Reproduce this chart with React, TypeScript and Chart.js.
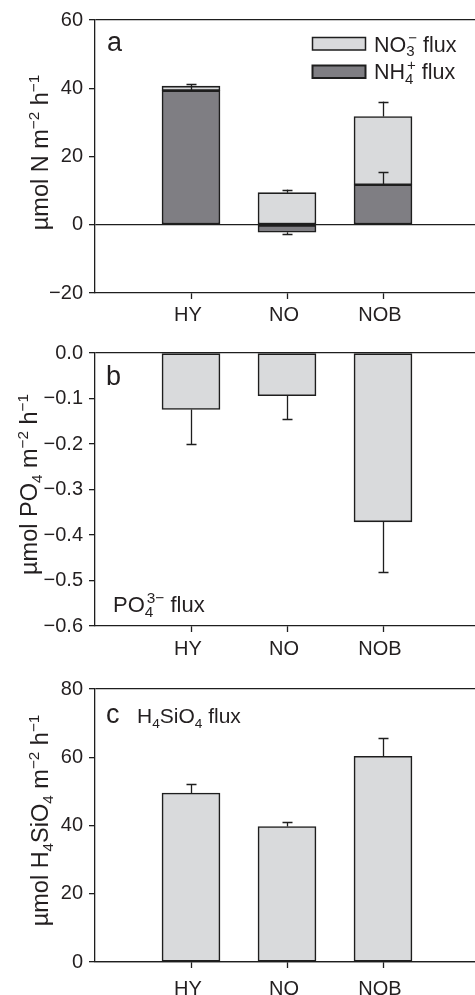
import React, { useEffect, useRef } from 'react';
import { Chart, registerables } from 'chart.js';

Chart.register(...registerables);

// ---------- data ----------
const categories = ['HY', 'NO', 'NOB'];

const no3Flux = [1.3, 9.4, 20.0];
const no3Err = [0, 0.9, 4.4];
const nh4Flux = [39.3, -2.2, 11.7];
const nh4Err = [2.0, 0.5, 3.7];

const po4Flux = [-0.124, -0.094, -0.371];
const po4Err = [0.076, 0.052, 0.11];

const siFlux = [49.5, 39.7, 60.3];
const siErr = [2.7, 1.4, 5.3];

const ticksA = [-20, 0, 20, 40, 60];
const ticksB = [-0.6, -0.5, -0.4, -0.3, -0.2, -0.1, 0.0];
const ticksC = [0, 20, 40, 60, 80];

// ---------- style ----------
const FONT = "'Liberation Sans', Arial, Helvetica, sans-serif";
const INK = '#231f20';
const LIGHT = '#d9dadc';
const DARK = '#7f7e83';
const EDGE = '#1e1e1e';

type Seg = { t: string; s?: 'sub' | 'sup'; stack?: boolean };

function richLayout(ctx: CanvasRenderingContext2D, segs: Seg[], size: number, scale = 0.65) {
  let cx = 0;
  let lastStart = 0;
  let lastW = 0;
  const out: { t: string; x: number; dy: number; fs: number }[] = [];
  for (const seg of segs) {
    const fs = seg.s ? size * scale : size;
    ctx.font = `${fs}px ${FONT}`;
    const w = ctx.measureText(seg.t).width;
    const dy = seg.s === 'sub' ? size * 0.22 : seg.s === 'sup' ? -size * 0.4 : 0;
    let x = cx;
    if (seg.stack) {
      x = lastStart + 2;
      cx = Math.max(lastStart + lastW, x + w);
    } else {
      cx += w;
    }
    out.push({ t: seg.t, x, dy, fs });
    lastStart = x;
    lastW = w;
  }
  return { items: out, width: cx };
}

function drawRich(ctx: CanvasRenderingContext2D, segs: Seg[], x: number, y: number, size: number, scale = 0.65) {
  const lay = richLayout(ctx, segs, size, scale);
  ctx.textAlign = 'left';
  ctx.textBaseline = 'alphabetic';
  ctx.fillStyle = INK;
  for (const it of lay.items) {
    ctx.font = `${it.fs}px ${FONT}`;
    ctx.fillText(it.t, x + it.x, y + it.dy);
  }
  return lay.width;
}

function drawRotated(ctx: CanvasRenderingContext2D, segs: Seg[], xBase: number, yCenter: number, size: number) {
  const lay = richLayout(ctx, segs, size);
  ctx.save();
  ctx.translate(xBase, yCenter);
  ctx.rotate(-Math.PI / 2);
  drawRich(ctx, segs, -lay.width / 2, 0, size);
  ctx.restore();
}

type Panel = {
  top: number;
  height: number;
  padTop: number;
  xHeight: number;
  xPad: number;
  ticks: number[];
  fmt: (v: number) => string;
  datasets: { data: number[]; err: number[]; color: string; label: string }[];
  title: Seg[];
  titleX: number;
  titleShift: number;
  annotate: (ctx: CanvasRenderingContext2D, area: any) => void;
};

const minus = (s: string) => s.replace('-', '\u2212');

const panels: Panel[] = [
  {
    top: 0,
    height: 330,
    padTop: 20,
    xHeight: 37,
    xPad: 4,
    ticks: ticksA,
    fmt: (v) => minus(String(v)),
    datasets: [
      { data: nh4Flux, err: nh4Err, color: DARK, label: 'NH4+ flux' },
      { data: no3Flux, err: no3Err, color: LIGHT, label: 'NO3- flux' },
    ],
    title: [{ t: 'µmol N m' }, { t: '−2', s: 'sup' }, { t: ' h' }, { t: '−1', s: 'sup' }],
    titleX: 48,
    titleShift: -4,
    annotate: (ctx) => {
      ctx.fillStyle = INK;
      ctx.font = `27px ${FONT}`;
      ctx.textAlign = 'left';
      ctx.textBaseline = 'alphabetic';
      ctx.fillText('a', 107, 51);
      // legend
      ctx.lineWidth = 1.5;
      ctx.strokeStyle = EDGE;
      ctx.fillStyle = LIGHT;
      ctx.fillRect(312.5, 37.5, 53, 12.5);
      ctx.strokeRect(312.5, 37.5, 53, 12.5);
      ctx.fillStyle = DARK;
      ctx.lineWidth = 2;
      ctx.fillRect(312.5, 65.5, 53, 12.5);
      ctx.strokeRect(312.5, 65.5, 53, 12.5);
      drawRich(ctx, [{ t: 'NO' }, { t: '3', s: 'sub' }, { t: '−', s: 'sup', stack: true }, { t: ' flux' }], 374, 51.5, 21.5, 0.7);
      drawRich(ctx, [{ t: 'NH' }, { t: '4', s: 'sub' }, { t: '+', s: 'sup', stack: true }, { t: ' flux' }], 374, 79, 21.5, 0.7);
    },
  },
  {
    top: 330,
    height: 330,
    padTop: 23,
    xHeight: 34,
    xPad: 5,
    ticks: ticksB,
    fmt: (v) => minus(v.toFixed(1)),
    datasets: [{ data: po4Flux, err: po4Err, color: LIGHT, label: 'PO4 3- flux' }],
    title: [{ t: 'µmol PO' }, { t: '4', s: 'sub' }, { t: ' m' }, { t: '−2', s: 'sup' }, { t: ' h' }, { t: '−1', s: 'sup' }],
    titleX: 37,
    titleShift: -5,
    annotate: (ctx) => {
      ctx.fillStyle = INK;
      ctx.font = `27px ${FONT}`;
      ctx.textAlign = 'left';
      ctx.textBaseline = 'alphabetic';
      ctx.fillText('b', 106, 55);
      drawRich(ctx, [{ t: 'PO' }, { t: '4', s: 'sub' }, { t: '3−', s: 'sup', stack: true }, { t: ' flux' }], 113, 282, 22, 0.7);
    },
  },
  {
    top: 660,
    height: 335,
    padTop: 29,
    xHeight: 33,
    xPad: 9,
    ticks: ticksC,
    fmt: (v) => String(v),
    datasets: [{ data: siFlux, err: siErr, color: LIGHT, label: 'H4SiO4 flux' }],
    title: [{ t: 'µmol H' }, { t: '4', s: 'sub' }, { t: 'SiO' }, { t: '4', s: 'sub' }, { t: ' m' }, { t: '−2', s: 'sup' }, { t: ' h' }, { t: '−1', s: 'sup' }],
    titleX: 48,
    titleShift: -5,
    annotate: (ctx) => {
      ctx.fillStyle = INK;
      ctx.font = `27px ${FONT}`;
      ctx.textAlign = 'left';
      ctx.textBaseline = 'alphabetic';
      ctx.fillText('c', 106, 63);
      drawRich(ctx, [{ t: 'H' }, { t: '4', s: 'sub' }, { t: 'SiO' }, { t: '4', s: 'sub' }, { t: ' flux' }], 137, 63, 21);
    },
  },
];

function ChartPanel({ p }: { p: Panel }) {
  const ref = useRef<HTMLCanvasElement>(null);
  useEffect(() => {
    const canvas = ref.current!;
    const labels = ['', ...categories, ''];
    const min = Math.min(...p.ticks);
    const max = Math.max(...p.ticks);
    const isEdge = (v: number) => Math.abs(v) < 1e-9 || Math.abs(v - max) < 1e-9;

    const errPlugin = {
      id: 'errbars',
      afterDatasetsDraw(chart: any) {
        const ctx = chart.ctx as CanvasRenderingContext2D;
        const y = chart.scales.y;
        ctx.save();
        ctx.strokeStyle = EDGE;
        ctx.lineWidth = 1.3;
        p.datasets.forEach((ds, di) => {
          const meta = chart.getDatasetMeta(di);
          ds.data.forEach((v, i) => {
            const e = ds.err[i];
            if (!e) return;
            const el = meta.data[i + 1];
            if (!el) return;
            const endVal = y.getValueForPixel(el.y);
            const sign = v >= 0 ? 1 : -1;
            const y0 = el.y;
            const y1 = y.getPixelForValue(endVal + sign * e);
            const x = Math.round(el.x) + 0.5;
            ctx.beginPath();
            ctx.moveTo(x, y0);
            ctx.lineTo(x, y1);
            ctx.moveTo(x - 5, Math.round(y1) + 0.5);
            ctx.lineTo(x + 5, Math.round(y1) + 0.5);
            ctx.stroke();
          });
        });
        ctx.restore();
      },
    };

    const textPlugin = {
      id: 'texts',
      afterDraw(chart: any) {
        const ctx = chart.ctx as CanvasRenderingContext2D;
        const a = chart.chartArea;
        ctx.save();
        drawRotated(ctx, p.title, p.titleX, (a.top + a.bottom) / 2 + p.titleShift, 23.5);
        p.annotate(ctx, a);
        ctx.restore();
      },
    };

    const chart = new Chart(canvas, {
      type: 'bar',
      data: {
        labels,
        datasets: p.datasets.map((ds) => ({
          label: ds.label,
          data: [null, ...ds.data, null] as any,
          backgroundColor: ds.color,
          borderColor: EDGE,
          borderWidth: 1.6,
          borderSkipped: false,
          barThickness: 58,
          stack: 's',
        })),
      },
      options: {
        animation: false,
        responsive: false,
        devicePixelRatio: 1,
        layout: { padding: { top: p.padTop, left: 0, right: 0, bottom: 0 } },
        plugins: { legend: { display: false }, tooltip: { enabled: false }, title: { display: false } },
        scales: {
          x: {
            type: 'category',
            offset: false,
            stacked: true,
            grid: {
              offset: false,
              drawOnChartArea: false,
              drawTicks: true,
              tickLength: 6,
              tickWidth: 1.3,
              tickColor: (c: any) => (c.index === 0 || c.index === labels.length - 1 ? 'rgba(0,0,0,0)' : EDGE),
            } as any,
            border: { display: true, color: EDGE, width: 1.3 },
            ticks: {
              autoSkip: false,
              maxRotation: 0,
              minRotation: 0,
              color: INK,
              font: { family: FONT, size: 20 },
              padding: p.xPad,
              labelOffset: -3,
            },
            afterFit: (s: any) => {
              s.height = p.xHeight;
              s.paddingLeft = 0;
              s.paddingRight = 0;
            },
          },
          y: {
            type: 'linear',
            stacked: true,
            min,
            max,
            afterBuildTicks: (s: any) => {
              s.ticks = p.ticks.map((v) => ({ value: v }));
            },
            afterFit: (s: any) => {
              s.width = 95;
            },
            grid: {
              drawOnChartArea: true,
              drawTicks: true,
              tickLength: 6,
              lineWidth: 1.3,
              color: (c: any) => (c.tick && isEdge(c.tick.value) ? EDGE : 'rgba(0,0,0,0)'),
              tickColor: EDGE,
            } as any,
            border: { display: true, color: EDGE, width: 1.3 },
            ticks: {
              color: INK,
              font: { family: FONT, size: 20 },
              padding: 6,
              callback: (v: any) => p.fmt(Number(v)),
            },
          },
        },
      },
      plugins: [errPlugin, textPlugin],
    });
    return () => chart.destroy();
  }, [p]);
  return (
    <canvas
      ref={ref}
      width={479}
      height={p.height}
      style={{ position: 'absolute', left: 0, top: p.top, width: 479, height: p.height, display: 'block' }}
    />
  );
}

export default function App() {
  return (
    <div
      style={{
        position: 'absolute',
        left: 0,
        top: 0,
        width: 475,
        height: 995,
        overflow: 'hidden',
        background: '#ffffff',
      }}
    >
      {panels.map((p, i) => (
        <ChartPanel key={i} p={p} />
      ))}
    </div>
  );
}
